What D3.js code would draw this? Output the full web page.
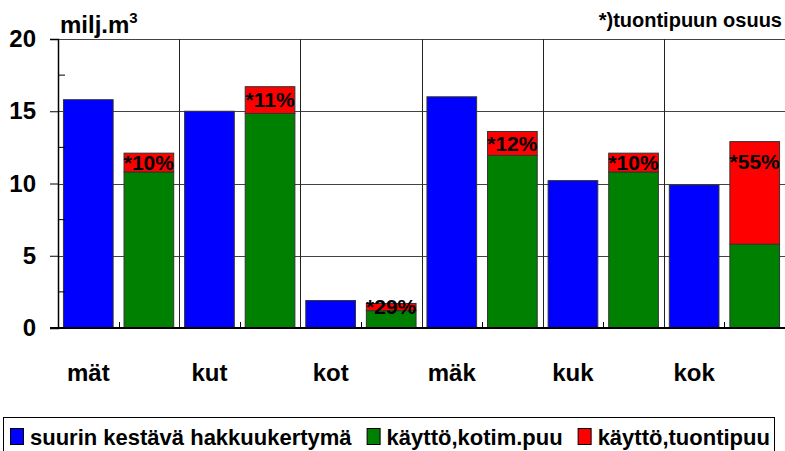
<!DOCTYPE html>
<html>
<head>
<meta charset="utf-8">
<script src="https://cdn.jsdelivr.net/npm/d3@7"></script>
<style>
  body { margin: 0; background: #fff; }
  svg { display: block; font-family: "Liberation Sans", Arial, sans-serif; font-weight: bold; }
</style>
</head>
<body>
<svg id="chart" width="785" height="451"></svg>
<script>
// data (milj. m3)
var regions = ['mät', 'kut', 'kot', 'mäk', 'kuk', 'kok'];
var kestava = [15.8, 15.0, 1.9, 16.0, 10.2, 9.9];     // suurin kestävä hakkuukertymä
var kotimainen = [10.8, 14.85, 1.2, 11.95, 10.8, 5.8]; // käyttö, kotim.puu
var tuonti = [1.3, 1.85, 0.5, 1.65, 1.3, 7.1];         // käyttö, tuontipuu
var osuus = ['*10%', '*11%', '*29%', '*12%', '*10%', '*55%'];
var yTicks = [0, 5, 10, 15, 20];
var yMinor = [2.5, 7.5, 12.5, 17.5];
var legendLabels = ['suurin kestävä hakkuukertymä', 'käyttö,kotim.puu', 'käyttö,tuontipuu'];
var colors = ['#0000ff', '#008000', '#ff0000'];

var svg = d3.select('#chart');
var pLeft = 58, pRight = 785, pTop = 39, pBottom = 328;

var x = d3.scaleBand().domain(regions).range([pLeft, pRight]);
var inner = d3.scaleBand().domain(['a', 'b']).range([0, x.bandwidth()])
    .paddingInner(0.18).paddingOuter(0.09);
var y = d3.scaleLinear().domain([0, 20]).range([pBottom, pTop]);

// horizontal gridlines
svg.append('g').selectAll('line')
    .data(yTicks.slice(1))
    .enter().append('line')
    .attr('x1', pLeft).attr('x2', pRight)
    .attr('y1', function(d) { return Math.round(y(d)) + 0.5; })
    .attr('y2', function(d) { return Math.round(y(d)) + 0.5; })
    .attr('stroke', '#444').attr('stroke-width', 1);

// vertical separators between regions
svg.append('g').selectAll('line')
    .data(regions.slice(1))
    .enter().append('line')
    .attr('x1', function(d) { return Math.round(x(d)) + 0.5; })
    .attr('x2', function(d) { return Math.round(x(d)) + 0.5; })
    .attr('y1', pTop).attr('y2', pBottom)
    .attr('stroke', '#222').attr('stroke-width', 1);

// small ticks on the x axis in the middle of each region
svg.append('g').selectAll('line')
    .data(regions)
    .enter().append('line')
    .attr('x1', function(d) { return Math.round(x(d) + x.bandwidth() / 2) + 0.5; })
    .attr('x2', function(d) { return Math.round(x(d) + x.bandwidth() / 2) + 0.5; })
    .attr('y1', pBottom).attr('y2', pBottom - 6)
    .attr('stroke', '#000');

// bars
var bars = svg.append('g');
regions.forEach(function(r, i) {
    var bx = x(r);
    bars.append('rect')
        .attr('x', bx + inner('a')).attr('width', inner.bandwidth())
        .attr('y', y(kestava[i])).attr('height', y(0) - y(kestava[i]))
        .attr('fill', colors[0]).attr('stroke', '#333').attr('stroke-width', 1);
    bars.append('rect')
        .attr('x', bx + inner('b')).attr('width', inner.bandwidth())
        .attr('y', y(kotimainen[i])).attr('height', y(0) - y(kotimainen[i]))
        .attr('fill', colors[1]).attr('stroke', '#333').attr('stroke-width', 1);
    var tot = kotimainen[i] + tuonti[i];
    bars.append('rect')
        .attr('x', bx + inner('b')).attr('width', inner.bandwidth())
        .attr('y', y(tot)).attr('height', y(kotimainen[i]) - y(tot))
        .attr('fill', colors[2]).attr('stroke', '#333').attr('stroke-width', 1);
    var mid = Math.min((y(tot) + y(kotimainen[i])) / 2, y(tot) + 20);
    bars.append('text')
        .attr('x', bx + inner('b') + inner.bandwidth() / 2)
        .attr('y', mid)
        .attr('dy', '0.35em')
        .attr('text-anchor', 'middle')
        .attr('font-size', 21)
        .attr('fill', '#000')
        .text(osuus[i]);
});

// y axis
var yAxis = svg.append('g')
    .attr('transform', 'translate(' + pLeft + ',0)')
    .call(d3.axisLeft(y).tickValues(yTicks).tickSize(8).tickPadding(14));
yAxis.select('.domain').attr('stroke', '#000').attr('stroke-width', 1.5);
yAxis.selectAll('text').attr('font-size', 24).attr('font-family', null).attr('fill', '#000');
svg.append('g').selectAll('line')
    .data(yMinor)
    .enter().append('line')
    .attr('x1', pLeft).attr('x2', pLeft + 7)
    .attr('y1', function(d) { return y(d); })
    .attr('y2', function(d) { return y(d); })
    .attr('stroke', '#000');

// x axis line
svg.append('line')
    .attr('x1', pLeft - 8).attr('x2', pRight)
    .attr('y1', pBottom).attr('y2', pBottom)
    .attr('stroke', '#000').attr('stroke-width', 2);

// region labels, under the first bar of each pair
svg.append('g').selectAll('text')
    .data(regions)
    .enter().append('text')
    .attr('x', function(d) { return x(d) + inner('a') + inner.bandwidth() / 2; })
    .attr('y', 381)
    .attr('text-anchor', 'middle')
    .attr('font-size', 24)
    .text(function(d) { return d; });

// unit and note
var unit = svg.append('text').attr('x', 60).attr('y', 33).attr('font-size', 24);
unit.append('tspan').text('milj.m');
unit.append('tspan').attr('font-size', 15).attr('dy', -10).text('3');
svg.append('text')
    .attr('x', 782).attr('y', 27)
    .attr('text-anchor', 'end')
    .attr('font-size', 20)
    .text('*)tuontipuun osuus');

// legend
svg.append('rect')
    .attr('x', 3.5).attr('y', 417.5).attr('width', 771).attr('height', 40)
    .attr('fill', '#fff').attr('stroke', '#000').attr('stroke-width', 1);
var lx = 10;
legendLabels.forEach(function(lab, i) {
    svg.append('rect')
        .attr('x', lx + 0.5).attr('y', 428.5).attr('width', 13).attr('height', 16)
        .attr('fill', colors[i]).attr('stroke', '#000');
    var t = svg.append('text')
        .attr('x', lx + 20).attr('y', 445)
        .attr('font-size', 22)
        .text(lab);
    lx = lx + 20 + t.node().getComputedTextLength() + 15;
});
</script>
</body>
</html>
